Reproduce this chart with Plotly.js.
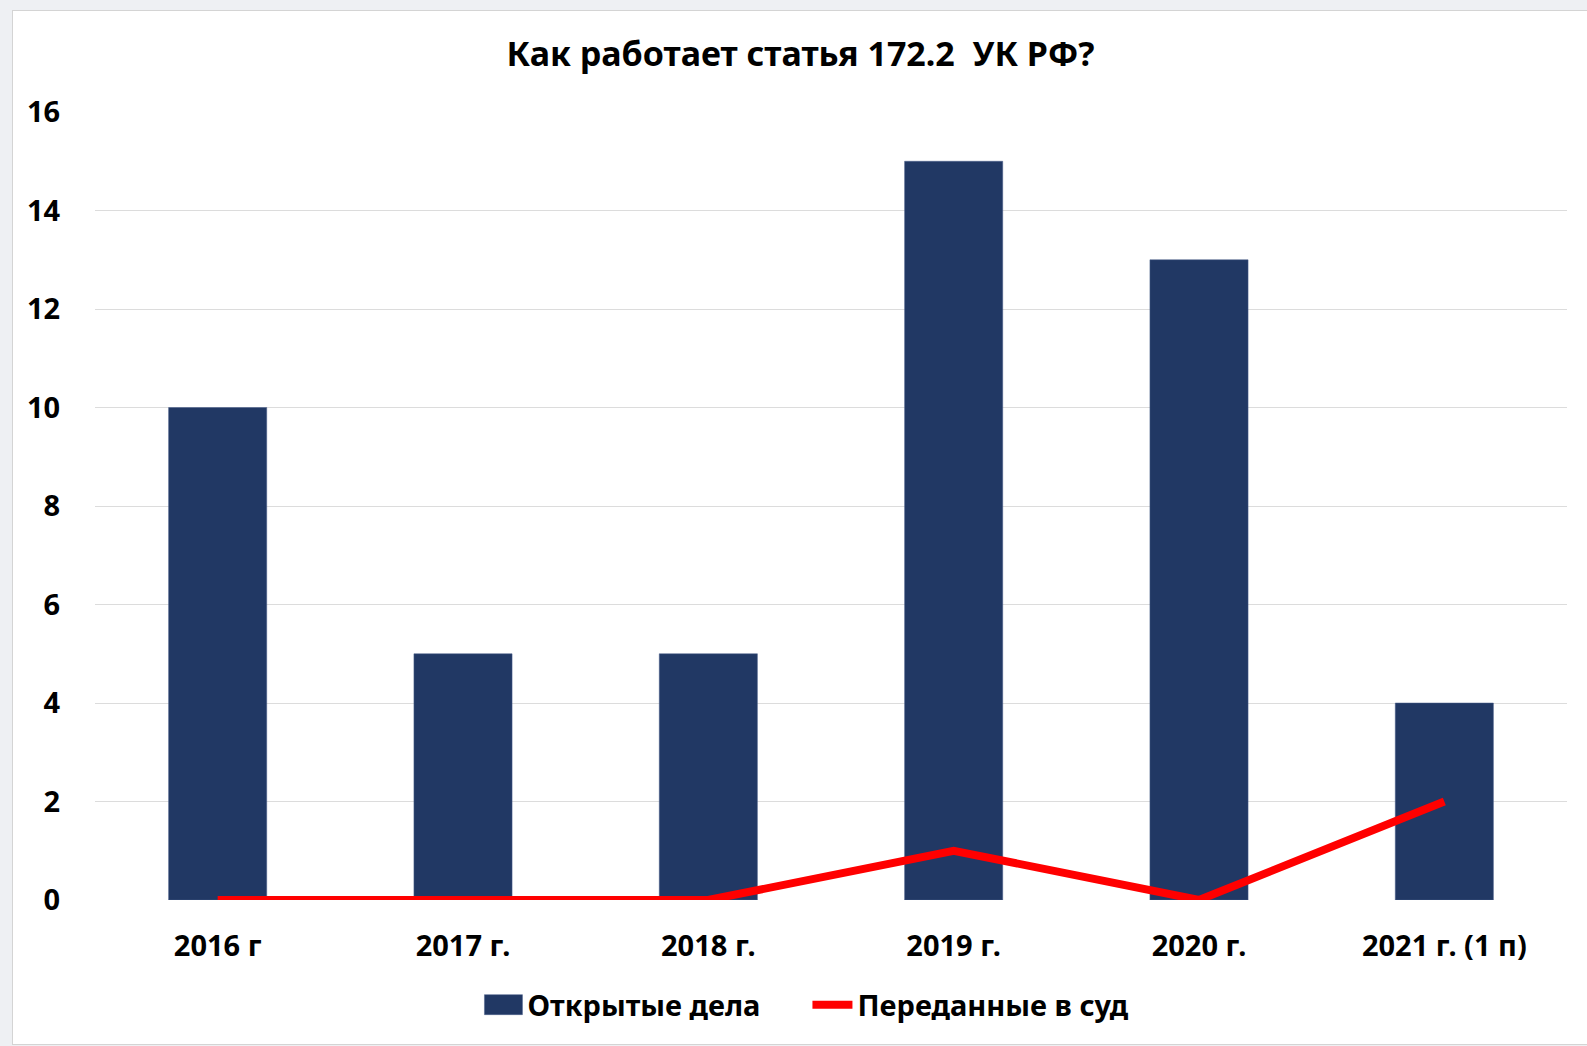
<!DOCTYPE html>
<html><head><meta charset="utf-8">
<script src="https://cdn.plot.ly/plotly-3.0.1.min.js"></script>
<style>
html,body{margin:0;padding:0;width:1587px;height:1046px;background:#eef0f3;overflow:hidden;}
#frame{position:absolute;left:12px;top:10px;width:1575px;height:1033px;background:#fff;border-left:1px solid #d4d4d4;border-top:1px solid #d4d4d4;border-bottom:1px solid #d4d4d4;}
#chart{width:1575px;height:1033px;}
</style></head>
<body>
<div id="frame"><div id="chart"></div></div>
<script>
const categories = ["2016 г", "2017 г.", "2018 г.", "2019 г.", "2020 г.", "2021 г. (1 п)"];
const openedCases = [10, 5, 5, 15, 13, 4];
const sentToCourt = [0, 0, 0, 1, 0, 2];
const seriesNames = ["Открытые дела", "Переданные в суд"];
const chartTitle = "Как работает статья 172.2  УК РФ?";
const yTicks = [0, 2, 4, 6, 8, 10, 12, 14, 16];

const FONT = "Noto Sans, Open Sans, sans-serif";
const traces = [
  {type: "bar", x: categories, y: openedCases, name: seriesNames[0],
   marker: {color: "#213864", line: {color: "#4a5f8a", width: 0.5}}},
  {type: "scatter", mode: "lines", x: categories, y: sentToCourt, name: seriesNames[1],
   line: {color: "#ff0000", width: 8}, cliponaxis: false}
];
const layout = {
  width: 1575, height: 1033,
  paper_bgcolor: "#ffffff", plot_bgcolor: "#ffffff",
  margin: {l: 82, r: 21, t: 101, b: 144},
  bargap: 0.6,
  showlegend: true,
  title: {text: chartTitle, x: 0.5, xanchor: "center", yref: "container", y: 0.958, yanchor: "middle",
          font: {family: FONT, size: 34, weight: "bold", color: "#000"}},
  xaxis: {type: "category", showgrid: false, zeroline: false, showline: false,
          ticks: "outside", ticklen: 20, tickcolor: "rgba(0,0,0,0)",
          tickfont: {family: FONT, size: 29, weight: "bold", color: "#000"}},
  yaxis: {range: [0, 16], tickvals: yTicks, showgrid: true, gridcolor: "#dcdcdc", gridwidth: 1,
          zeroline: false, showline: false,
          ticks: "outside", ticklen: 28, tickcolor: "rgba(0,0,0,0)",
          tickfont: {family: FONT, size: 29, weight: "bold", color: "#000"}},
  legend: {orientation: "h", x: 0.484, xanchor: "center", y: -0.133, yanchor: "middle",
           font: {family: FONT, size: 29, weight: "bold", color: "#000"}, itemwidth: 40,
           entrywidth: 275, entrywidthmode: "pixels"}
};
Plotly.newPlot("chart", traces, layout, {displayModeBar: false, staticPlot: true}).then(function (gd) {
  // widen the bar legend swatch into a rectangle like the original
  gd.querySelectorAll(".legend .legendpoints path.legendundefined, .legend .legendbar path").forEach(function (p) {
    p.setAttribute("d", "M20,10H-18V-10H20Z");
  });
});
</script>
</body></html>
